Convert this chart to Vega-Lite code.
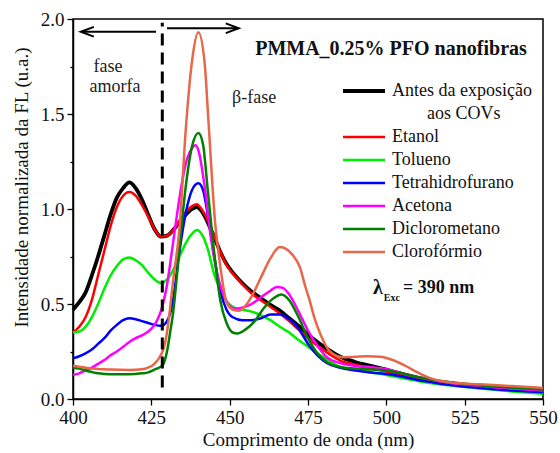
{
"$schema":"https://vega.github.io/schema/vega-lite/v6.json",
"width":470,"height":380,
"autosize":{"type":"none"},
"padding":{"left":73,"top":19,"right":17,"bottom":54},
"background":"white",
"config":{"view":{"stroke":"#000","strokeWidth":1.5},"font":"'Liberation Serif', 'Times New Roman', serif"},
"datasets":{
"A":[{"x":400,"y":0.47},{"x":402,"y":0.51},{"x":404,"y":0.56},{"x":406,"y":0.65},{"x":408,"y":0.75},{"x":410,"y":0.86},{"x":412,"y":0.97},{"x":414,"y":1.06},{"x":416,"y":1.11},{"x":418,"y":1.14},{"x":420,"y":1.11},{"x":422,"y":1.05},{"x":424,"y":0.97},{"x":426,"y":0.895},{"x":428,"y":0.855},{"x":430,"y":0.86},{"x":432,"y":0.89},{"x":434,"y":0.93},{"x":436,"y":0.97},{"x":438,"y":1.0},{"x":439.5,"y":1.01},{"x":441,"y":0.99},{"x":443,"y":0.93},{"x":445,"y":0.855},{"x":447,"y":0.775},{"x":449,"y":0.71},{"x":451,"y":0.665},{"x":454,"y":0.61},{"x":457,"y":0.565},{"x":460,"y":0.53},{"x":463,"y":0.495},{"x":466,"y":0.465},{"x":469,"y":0.425},{"x":472,"y":0.385},{"x":475,"y":0.34},{"x":478,"y":0.30},{"x":481,"y":0.265},{"x":485,"y":0.225},{"x":490,"y":0.195},{"x":495,"y":0.175},{"x":500,"y":0.155},{"x":505,"y":0.132},{"x":510,"y":0.112},{"x":515,"y":0.096},{"x":520,"y":0.083},{"x":530,"y":0.066},{"x":540,"y":0.052},{"x":550,"y":0.04}],
"E":[{"x":400,"y":0.35},{"x":402,"y":0.38},{"x":404,"y":0.43},{"x":406,"y":0.52},{"x":408,"y":0.65},{"x":410,"y":0.78},{"x":412,"y":0.91},{"x":414,"y":1.01},{"x":416,"y":1.07},{"x":418,"y":1.09},{"x":420,"y":1.07},{"x":422,"y":1.02},{"x":424,"y":0.96},{"x":426,"y":0.895},{"x":428,"y":0.855},{"x":430,"y":0.86},{"x":432,"y":0.89},{"x":434,"y":0.94},{"x":436,"y":0.985},{"x":438,"y":1.015},{"x":439.5,"y":1.025},{"x":441,"y":1.0},{"x":443,"y":0.94},{"x":445,"y":0.86},{"x":447,"y":0.775},{"x":449,"y":0.705},{"x":451,"y":0.66},{"x":454,"y":0.605},{"x":457,"y":0.555},{"x":460,"y":0.52},{"x":463,"y":0.485},{"x":466,"y":0.45},{"x":469,"y":0.41},{"x":472,"y":0.365},{"x":475,"y":0.32},{"x":478,"y":0.28},{"x":481,"y":0.245},{"x":485,"y":0.205},{"x":490,"y":0.18},{"x":495,"y":0.16},{"x":500,"y":0.145},{"x":505,"y":0.125},{"x":510,"y":0.106},{"x":515,"y":0.091},{"x":520,"y":0.079},{"x":530,"y":0.062},{"x":540,"y":0.05},{"x":550,"y":0.04}],
"T":[{"x":400,"y":0.35},{"x":402,"y":0.355},{"x":404,"y":0.38},{"x":406,"y":0.43},{"x":408,"y":0.5},{"x":410,"y":0.58},{"x":412,"y":0.65},{"x":414,"y":0.7},{"x":416,"y":0.735},{"x":418,"y":0.745},{"x":420,"y":0.73},{"x":422,"y":0.705},{"x":424,"y":0.665},{"x":426,"y":0.63},{"x":428,"y":0.61},{"x":430,"y":0.63},{"x":432,"y":0.68},{"x":434,"y":0.75},{"x":436,"y":0.82},{"x":438,"y":0.87},{"x":439.5,"y":0.89},{"x":441,"y":0.87},{"x":443,"y":0.79},{"x":445,"y":0.66},{"x":447,"y":0.575},{"x":449,"y":0.515},{"x":451,"y":0.485},{"x":454,"y":0.47},{"x":457,"y":0.46},{"x":460,"y":0.44},{"x":463,"y":0.415},{"x":466,"y":0.38},{"x":469,"y":0.35},{"x":472,"y":0.31},{"x":475,"y":0.275},{"x":478,"y":0.24},{"x":481,"y":0.21},{"x":485,"y":0.17},{"x":490,"y":0.155},{"x":495,"y":0.14},{"x":500,"y":0.126},{"x":505,"y":0.11},{"x":510,"y":0.095},{"x":515,"y":0.082},{"x":520,"y":0.072},{"x":530,"y":0.055},{"x":540,"y":0.04},{"x":550,"y":0.028}],
"B":[{"x":400,"y":0.214},{"x":402,"y":0.225},{"x":404,"y":0.24},{"x":406,"y":0.26},{"x":408,"y":0.29},{"x":410,"y":0.32},{"x":412,"y":0.36},{"x":414,"y":0.39},{"x":416,"y":0.415},{"x":418,"y":0.425},{"x":420,"y":0.42},{"x":422,"y":0.41},{"x":424,"y":0.4},{"x":426,"y":0.39},{"x":428,"y":0.385},{"x":429,"y":0.39},{"x":430,"y":0.41},{"x":431,"y":0.45},{"x":432,"y":0.53},{"x":434,"y":0.78},{"x":436,"y":0.98},{"x":438,"y":1.1},{"x":440,"y":1.135},{"x":441.5,"y":1.1},{"x":443,"y":0.97},{"x":445,"y":0.76},{"x":447,"y":0.57},{"x":449,"y":0.47},{"x":451,"y":0.43},{"x":454,"y":0.415},{"x":457,"y":0.415},{"x":460,"y":0.425},{"x":463,"y":0.445},{"x":466,"y":0.445},{"x":469,"y":0.42},{"x":472,"y":0.37},{"x":475,"y":0.29},{"x":478,"y":0.23},{"x":481,"y":0.19},{"x":485,"y":0.165},{"x":490,"y":0.15},{"x":495,"y":0.14},{"x":500,"y":0.132},{"x":505,"y":0.118},{"x":510,"y":0.1},{"x":515,"y":0.087},{"x":520,"y":0.075},{"x":530,"y":0.058},{"x":540,"y":0.045},{"x":550,"y":0.035}],
"M":[{"x":400,"y":0.126},{"x":402,"y":0.135},{"x":404,"y":0.15},{"x":406,"y":0.165},{"x":408,"y":0.185},{"x":410,"y":0.205},{"x":412,"y":0.23},{"x":414,"y":0.25},{"x":416,"y":0.275},{"x":418,"y":0.3},{"x":420,"y":0.32},{"x":422,"y":0.335},{"x":424,"y":0.355},{"x":426,"y":0.39},{"x":427,"y":0.42},{"x":428,"y":0.46},{"x":429,"y":0.52},{"x":430,"y":0.6},{"x":431,"y":0.71},{"x":432,"y":0.83},{"x":434,"y":1.06},{"x":436,"y":1.24},{"x":438,"y":1.32},{"x":439,"y":1.335},{"x":440,"y":1.31},{"x":442,"y":1.12},{"x":444,"y":0.85},{"x":446,"y":0.66},{"x":448,"y":0.55},{"x":450,"y":0.49},{"x":452,"y":0.475},{"x":454,"y":0.48},{"x":457,"y":0.5},{"x":460,"y":0.535},{"x":463,"y":0.57},{"x":465,"y":0.59},{"x":467,"y":0.585},{"x":469,"y":0.55},{"x":472,"y":0.46},{"x":475,"y":0.36},{"x":478,"y":0.28},{"x":481,"y":0.22},{"x":485,"y":0.19},{"x":490,"y":0.175},{"x":495,"y":0.168},{"x":500,"y":0.158},{"x":505,"y":0.135},{"x":510,"y":0.115},{"x":515,"y":0.098},{"x":520,"y":0.085},{"x":530,"y":0.068},{"x":540,"y":0.055},{"x":550,"y":0.045}],
"D":[{"x":400,"y":0.165},{"x":402,"y":0.16},{"x":404,"y":0.15},{"x":406,"y":0.142},{"x":408,"y":0.135},{"x":410,"y":0.132},{"x":414,"y":0.13},{"x":418,"y":0.13},{"x":422,"y":0.135},{"x":424,"y":0.14},{"x":426,"y":0.155},{"x":428,"y":0.17},{"x":429,"y":0.19},{"x":430,"y":0.25},{"x":431,"y":0.35},{"x":432,"y":0.46},{"x":433,"y":0.62},{"x":434,"y":0.8},{"x":436,"y":1.12},{"x":438,"y":1.33},{"x":440,"y":1.4},{"x":441.5,"y":1.34},{"x":443,"y":1.1},{"x":445,"y":0.78},{"x":447,"y":0.52},{"x":449,"y":0.4},{"x":451,"y":0.35},{"x":452.5,"y":0.345},{"x":455,"y":0.365},{"x":458,"y":0.41},{"x":461,"y":0.48},{"x":464,"y":0.53},{"x":466.5,"y":0.55},{"x":469,"y":0.52},{"x":472,"y":0.43},{"x":475,"y":0.32},{"x":478,"y":0.24},{"x":481,"y":0.195},{"x":485,"y":0.17},{"x":490,"y":0.16},{"x":495,"y":0.155},{"x":500,"y":0.15},{"x":505,"y":0.135},{"x":510,"y":0.115},{"x":515,"y":0.1},{"x":520,"y":0.09},{"x":530,"y":0.072},{"x":540,"y":0.06},{"x":550,"y":0.05}],
"C":[{"x":400,"y":0.175},{"x":402,"y":0.17},{"x":404,"y":0.165},{"x":408,"y":0.158},{"x":412,"y":0.155},{"x":418,"y":0.153},{"x":422,"y":0.156},{"x":424,"y":0.165},{"x":426,"y":0.185},{"x":428,"y":0.23},{"x":429,"y":0.27},{"x":430,"y":0.35},{"x":431,"y":0.48},{"x":432,"y":0.63},{"x":434,"y":0.9},{"x":436,"y":1.42},{"x":438,"y":1.78},{"x":440,"y":1.93},{"x":442,"y":1.77},{"x":443.2,"y":1.47},{"x":445.3,"y":0.94},{"x":447,"y":0.7},{"x":449,"y":0.51},{"x":451,"y":0.47},{"x":453,"y":0.465},{"x":455,"y":0.49},{"x":457.5,"y":0.555},{"x":460,"y":0.64},{"x":463,"y":0.74},{"x":466,"y":0.8},{"x":468,"y":0.79},{"x":470,"y":0.76},{"x":472.5,"y":0.69},{"x":474,"y":0.6},{"x":475.5,"y":0.52},{"x":477,"y":0.43},{"x":479,"y":0.34},{"x":482,"y":0.25},{"x":486,"y":0.22},{"x":490,"y":0.222},{"x":494,"y":0.225},{"x":498,"y":0.222},{"x":502,"y":0.205},{"x":506,"y":0.175},{"x":510,"y":0.14},{"x":514,"y":0.11},{"x":520,"y":0.088},{"x":530,"y":0.077},{"x":540,"y":0.068},{"x":550,"y":0.058}]
},
"layer":[
{"data":{"name":"A"},"transform":[{"calculate":"'Antes da exposição'","as":"s"}],"mark":{"type":"line","interpolate":"monotone"},"encoding":{
 "x":{"field":"x","type":"quantitative","scale":{"domain":[400,550],"nice":false,"zero":false},
  "axis":{"title":"Comprimento de onda (nm)","values":[400,412.5,425,437.5,450,462.5,475,487.5,500,512.5,525,537.5,550],"labelExpr":"datum.value % 25 === 0 ? format(datum.value,'d') : ''","labelOverlap":false,"labelFlush":false,"grid":false,"domainColor":"#000","domainWidth":1.5,"tickColor":"#000","tickWidth":1.3,"tickSize":{"condition":{"test":"datum.value % 25 === 0","value":6},"value":3},"labelFontSize":19,"labelColor":"#111","labelPadding":3,"titleFontSize":19,"titleFontWeight":"normal","titleColor":"#111","titlePadding":3}},
 "y":{"field":"y","type":"quantitative","scale":{"domain":[0,2],"nice":false},
  "axis":{"title":"Intensidade normalizada da FL (u.a.)","values":[0,0.25,0.5,0.75,1,1.25,1.5,1.75,2],"labelExpr":"datum.value % 0.5 === 0 ? format(datum.value,'.1f') : ''","labelOverlap":false,"labelFlush":false,"grid":false,"domainColor":"#000","domainWidth":1.5,"tickColor":"#000","tickWidth":1.3,"tickSize":{"condition":{"test":"datum.value % 0.5 === 0","value":6},"value":3},"labelFontSize":19,"labelColor":"#111","labelPadding":3,"titleFontSize":19,"titleFontWeight":"normal","titleColor":"#111","titleX":-42,"titleY":168}},
 "color":{"field":"s","type":"nominal","scale":{"domain":["Antes da exposição","aos COVs","Etanol","Tolueno","Tetrahidrofurano","Acetona","Diclorometano","Clorofórmio"],"range":["#000000","rgba(0,0,0,0)","#ff0000","#00ee00","#0000ff","#ff00ff","#007f00","#e8674a"]},
  "legend":{"title":null,"orient":"none","legendX":282,"legendY":63,"symbolType":"M-3,0H3","symbolSize":196,"labelFontSize":18,"labelColor":"#111","labelOffset":19,"rowPadding":5,"padding":0,"labelLimit":300,
   "encode":{"symbols":{"update":{"strokeWidth":{"signal":"datum.value === 'Antes da exposição' ? 3.8 : 2.5"}}},"labels":{"update":{"dx":{"signal":"datum.value === 'aos COVs' ? 35 : 0"}}}}}},
 "strokeWidth":{"field":"s","type":"nominal","legend":null,"scale":{"type":"ordinal","domain":["Antes da exposição","aos COVs","Etanol","Tolueno","Tetrahidrofurano","Acetona","Diclorometano","Clorofórmio"],"range":[3.8,0.01,2.5,2.5,2.5,2.5,2.5,2.5]}}
}},
{"data":{"name":"E"},"transform":[{"calculate":"'Etanol'","as":"s"}],"mark":{"type":"line","interpolate":"monotone"},"encoding":{"x":{"field":"x","type":"quantitative"},"y":{"field":"y","type":"quantitative"},"color":{"field":"s","type":"nominal"},"strokeWidth":{"field":"s","type":"nominal","legend":null}}},
{"data":{"name":"T"},"transform":[{"calculate":"'Tolueno'","as":"s"}],"mark":{"type":"line","interpolate":"monotone"},"encoding":{"x":{"field":"x","type":"quantitative"},"y":{"field":"y","type":"quantitative"},"color":{"field":"s","type":"nominal"},"strokeWidth":{"field":"s","type":"nominal","legend":null}}},
{"data":{"name":"B"},"transform":[{"calculate":"'Tetrahidrofurano'","as":"s"}],"mark":{"type":"line","interpolate":"monotone"},"encoding":{"x":{"field":"x","type":"quantitative"},"y":{"field":"y","type":"quantitative"},"color":{"field":"s","type":"nominal"},"strokeWidth":{"field":"s","type":"nominal","legend":null}}},
{"data":{"name":"M"},"transform":[{"calculate":"'Acetona'","as":"s"}],"mark":{"type":"line","interpolate":"monotone"},"encoding":{"x":{"field":"x","type":"quantitative"},"y":{"field":"y","type":"quantitative"},"color":{"field":"s","type":"nominal"},"strokeWidth":{"field":"s","type":"nominal","legend":null}}},
{"data":{"name":"D"},"transform":[{"calculate":"'Diclorometano'","as":"s"}],"mark":{"type":"line","interpolate":"monotone"},"encoding":{"x":{"field":"x","type":"quantitative"},"y":{"field":"y","type":"quantitative"},"color":{"field":"s","type":"nominal"},"strokeWidth":{"field":"s","type":"nominal","legend":null}}},
{"data":{"name":"C"},"transform":[{"calculate":"'Clorofórmio'","as":"s"}],"mark":{"type":"line","interpolate":"monotone"},"encoding":{"x":{"field":"x","type":"quantitative"},"y":{"field":"y","type":"quantitative"},"color":{"field":"s","type":"nominal"},"strokeWidth":{"field":"s","type":"nominal","legend":null}}},
{"data":{"values":[{}]},"mark":{"type":"rule","color":"#000","strokeWidth":3,"strokeDash":[12,7]},"encoding":{"x":{"datum":428.5},"y":{"datum":0.06},"y2":{"datum":1.98}}},
{"data":{"values":[{}]},"mark":{"type":"rule","color":"#000","strokeWidth":2},"encoding":{"x":{"datum":402.6},"x2":{"datum":426.5},"y":{"datum":1.933}}},
{"data":{"values":[{}]},"mark":{"type":"rule","color":"#000","strokeWidth":2},"encoding":{"x":{"datum":430},"x2":{"datum":452.8},"y":{"datum":1.951}}},
{"data":{"values":[{}]},"mark":{"type":"point","shape":"M2,-0.75L0,0L2,0.75","size":169,"filled":false,"stroke":"#000","strokeWidth":2,"opacity":1},"encoding":{"x":{"datum":402.5},"y":{"datum":1.933}}},
{"data":{"values":[{}]},"mark":{"type":"point","shape":"M-2,-0.75L0,0L-2,0.75","size":169,"filled":false,"stroke":"#000","strokeWidth":2,"opacity":1},"encoding":{"x":{"datum":452.9},"y":{"datum":1.951}}},
{"data":{"values":[{}]},"mark":{"type":"text","text":"fase","fontSize":18,"color":"#222","align":"center","baseline":"middle"},"encoding":{"x":{"datum":411.2},"y":{"datum":1.75}}},
{"data":{"values":[{}]},"mark":{"type":"text","text":"amorfa","fontSize":18,"color":"#222","align":"center","baseline":"middle"},"encoding":{"x":{"datum":413.4},"y":{"datum":1.64}}},
{"data":{"values":[{}]},"mark":{"type":"text","text":"β-fase","fontSize":18,"color":"#222","align":"center","baseline":"middle"},"encoding":{"x":{"datum":457.8},"y":{"datum":1.585}}},
{"data":{"values":[{}]},"mark":{"type":"text","text":"PMMA_0.25% PFO nanofibras","fontSize":20,"fontWeight":"bold","color":"#111","align":"center","baseline":"middle"},"encoding":{"x":{"datum":501.5},"y":{"datum":1.842}}},
{"data":{"values":[{}]},"mark":{"type":"text","text":"λ","fontSize":20,"fontWeight":"bold","color":"#111","align":"center","baseline":"middle"},"encoding":{"x":{"datum":497.3},"y":{"datum":0.584}}},
{"data":{"values":[{}]},"mark":{"type":"text","text":"Exc","fontSize":10,"fontWeight":"bold","color":"#111","align":"left","baseline":"middle"},"encoding":{"x":{"datum":499.2},"y":{"datum":0.53}}},
{"data":{"values":[{}]},"mark":{"type":"text","text":"= 390 nm","fontSize":18,"fontWeight":"bold","color":"#111","align":"left","baseline":"middle"},"encoding":{"x":{"datum":505.3},"y":{"datum":0.584}}}
]
}
